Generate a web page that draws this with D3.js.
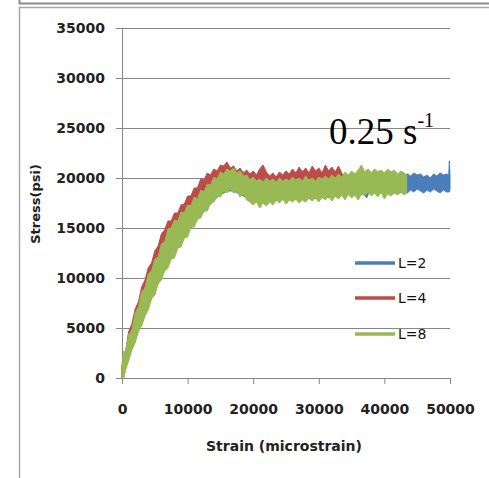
<!DOCTYPE html>
<html>
<head>
<meta charset="utf-8">
<script src="https://cdn.jsdelivr.net/npm/d3@7"></script>
<style>
  body { margin: 0; background: #fff; }
</style>
</head>
<body>
<script>
// Stress vs strain at 0.25 s-1, three specimen lengths

const seriesNames = ["L=2", "L=4", "L=8"];
const xTicks = [0, 10000, 20000, 30000, 40000, 50000];
const yTicks = [0, 5000, 10000, 15000, 20000, 25000, 30000, 35000];
const rateLabel = "0.25 s";
const rateExp = "-1";

// noisy traces: [strain (microstrain), low stress, high stress] (psi)
const l2Data = [[0,0,1200],[1000,2000,3800],[2000,3800,6000],[3000,5600,8000],[4000,7200,9800],
  [5000,8800,11300],[6000,10200,12800],[7000,11400,14200],[8000,12500,15200],[9000,13500,16000],
  [10000,14600,16800],[11000,15400,17600],[12000,16300,18300],[13000,17000,19000],[14000,17800,19700],
  [15000,18300,20200],[16000,18700,20400],[17000,18700,20500],[18000,18400,20200],[19000,18000,19900],
  [20000,17700,19800],[22000,17600,19600],[24000,17800,19700],[26000,17900,19800],[28000,17900,19900],
  [30000,18000,19900],[32000,18100,20000],[34000,18300,20200],[36000,18400,20300],[37000,18300,20300],
  [37300,18000,20300],[37600,18500,20300],[39000,18500,20400],[41000,18500,20400],[43000,18600,20300],
  [43500,18500,20400],[44000,18800,20200],[44500,18600,20500],[45000,18900,20300],[45500,18700,20400],
  [46000,18500,20100],[46500,18800,20300],[47000,18600,20000],[47500,18900,20400],[48000,18700,20200],
  [48500,18500,20500],[49000,18800,20300],[49500,18600,20400],[49800,18600,20300],[49900,18600,21700],
  [50000,18900,20200]];

const l4Data = [[0,0,1200],[500,1000,2400],[1000,2000,4600],[1500,3200,5400],[2000,4200,6900],
  [2500,5200,7600],[3000,6100,9100],[3500,7100,9800],[4000,7900,11000],[4500,8800,11500],
  [5000,9500,12700],[5500,10300,13200],[6000,11000,14400],[6500,11700,14800],[7000,12300,15700],
  [7500,12900,15700],[8000,13500,16500],[8500,14000,16500],[9000,14500,17300],[9500,15000,17400],
  [10000,15400,18200],[10500,15900,18200],[11000,16300,19000],[11500,16700,19000],[12000,17100,19900],
  [12500,17500,19800],[13000,17800,20500],[13500,18200,20300],[14000,18500,20900],[14500,18800,20700],
  [15000,19000,21300],[15500,19200,21200],[16000,19400,21600],[16500,19400,21000],[17000,19400,21200],
  [17500,19300,20700],[18000,19200,21000],[18500,19100,20500],[19000,19000,20800],[19500,19000,20400],
  [20000,19000,20700],[20500,19000,20300],[21000,19000,20900],[21500,19000,21300],[22000,19000,20600],
  [22500,19000,20200],[23000,19000,20500],[23500,19000,20100],[24000,19000,20600],[24500,19000,20300],
  [25000,19000,20700],[25500,19000,20400],[26000,19000,20900],[26500,19000,20500],[27000,19000,21100],
  [27500,19000,20600],[28000,19000,21000],[28500,19000,20500],[29000,19000,21200],[29500,19000,20700],
  [30000,19000,21000],[30500,19000,20500],[31000,19000,21300],[31500,19000,20700],[32000,19000,21100],
  [32500,19000,20600],[33000,19000,21200],[33500,19000,20500],[33800,19000,20200]];

const l8Data = [[0,0,1500],[300,0,2700],[500,700,2500],[1000,1700,4300],[1500,2800,4800],[2000,3500,6500],
  [2500,4700,7100],[3000,5200,8600],[3500,6200,9000],[4000,6800,10400],[4500,7900,10700],[5000,8300,11900],
  [5500,9400,12100],[6000,9800,13400],[6500,10700,13600],[7000,11000,14900],[7500,11900,15000],
  [8000,12000,15800],[8500,13000,15700],[9000,13100,16600],[9500,14000,16500],[10000,14100,17300],
  [10500,15100,17200],[11000,15100,18100],[11500,15900,17900],[12000,16000,18800],[12500,16700,18600],
  [13000,16700,19400],[13500,17500,19300],[14000,17600,20100],[14500,18200,19900],[15000,18100,20600],
  [15500,18700,20400],[16000,18500,20900],[16500,18900,20700],[17000,18500,21000],[17500,18700,20500],
  [18000,18100,20700],[18500,18400,20200],[19000,17800,20300],[19500,17600,19800],[20000,17300,20100],
  [20500,17600,19700],[21000,17000,19900],[21500,17500,19600],[22000,17200,20000],[22500,17600,19700],
  [23000,17300,19900],[23500,17800,19600],[24000,17500,20000],[24500,17900,19700],[25000,17400,19900],
  [25500,17800,19700],[26000,17600,20100],[26500,17900,19800],[27000,17500,20000],[27500,17800,19700],
  [28000,17600,20200],[28500,18000,19800],[29000,17700,20000],[29500,18000,19700],[30000,17600,20100],
  [30500,18100,19900],[31000,17800,20200],[31500,18200,19900],[32000,17700,20300],[32500,18200,20000],
  [33000,17900,20400],[33500,18300,20100],[34000,17800,20600],[34500,18400,20300],[35000,18000,20700],
  [35500,18300,20400],[36000,17800,20800],[36500,18400,21300],[37000,18300,20600],[37500,18600,20900],
  [38000,18200,20500],[38500,18500,20900],[39000,18100,20600],[39500,18600,20800],[40000,17900,20500],
  [40500,18400,20900],[41000,18200,20600],[41500,18500,20800],[42000,18300,20400],[42500,18600,20700],
  [43000,18300,20500],[43400,18500,20300]];

const seriesData = [l2Data, l4Data, l8Data];
const seriesColors = ["#4a7ebb", "#be4b48", "#98b954"];

const outerWidth = 489;
const outerHeight = 478;
const plot = {left: 122, right: 450, top: 28, bottom: 378};

const svg = d3.select("body").append("svg")
    .attr("width", outerWidth)
    .attr("height", outerHeight);

// frame edges (bottom of the box above + this chart's box)
svg.append("path")
   .attr("d", "M19.5,0V3.5H489")
   .attr("fill", "none")
   .attr("stroke", "#8c8c8c")
   .attr("stroke-width", 2);
svg.append("path")
   .attr("d", "M489,7.5H19.5V478")
   .attr("fill", "none")
   .attr("stroke", "#a6a6a6")
   .attr("stroke-width", 1.5);

const x = d3.scaleLinear().domain([0, 50000]).range([plot.left, plot.right]);
const y = d3.scaleLinear().domain([0, 35000]).range([plot.bottom, plot.top]);

// gridlines + y axis
const yAxis = svg.append("g")
   .attr("transform", "translate(" + plot.left + ",0)")
   .call(d3.axisLeft(y).tickValues(yTicks).tickSize(6).tickPadding(11).tickFormat(d3.format("d")));
yAxis.select(".domain").attr("stroke", "#868686");
yAxis.selectAll(".tick line").attr("stroke", "#868686");
yAxis.selectAll(".tick").append("line")
   .attr("x1", 0).attr("x2", plot.right - plot.left)
   .attr("stroke", "#868686");
yAxis.selectAll("text")
   .style("font-family", "DejaVu Sans")
   .style("font-weight", "bold")
   .style("font-size", "14px")
   .attr("fill", "#222");

// x axis
const xAxis = svg.append("g")
   .attr("transform", "translate(0," + plot.bottom + ")")
   .call(d3.axisBottom(x).tickValues(xTicks).tickSize(6).tickSizeOuter(0).tickPadding(20).tickFormat(d3.format("d")));
xAxis.select(".domain").attr("stroke", "#868686");
xAxis.selectAll(".tick line").attr("stroke", "#868686");
xAxis.selectAll("text")
   .style("font-family", "DejaVu Sans")
   .style("font-weight", "bold")
   .style("font-size", "14px")
   .attr("fill", "#222");

// series, drawn as the band the noisy trace fills
const band = d3.area()
   .x(d => x(d[0]))
   .y0(d => y(d[1]))
   .y1(d => y(d[2]));
svg.append("g").selectAll("path")
   .data(seriesData)
   .join("path")
   .attr("d", band)
   .attr("fill", (d, i) => seriesColors[i])
   .attr("stroke", (d, i) => seriesColors[i])
   .attr("stroke-width", 1)
   .attr("stroke-linejoin", "round");

// axis titles
svg.append("text")
   .text("Strain (microstrain)")
   .attr("x", 284).attr("y", 451)
   .attr("text-anchor", "middle")
   .style("font-family", "DejaVu Sans").style("font-weight", "bold").style("font-size", "14px")
   .attr("fill", "#222");
svg.append("text")
   .text("Stress(psi)")
   .attr("transform", "translate(40,204)rotate(-90)")
   .attr("text-anchor", "middle")
   .style("font-family", "DejaVu Sans").style("font-weight", "bold").style("font-size", "13px")
   .attr("fill", "#222");

// legend
const legend = svg.append("g").selectAll("g")
   .data(seriesNames)
   .join("g")
   .attr("transform", (d, i) => "translate(355," + [263, 298, 334][i] + ")");
legend.append("line")
   .attr("x1", 0).attr("x2", 40)
   .attr("stroke", (d, i) => seriesColors[i])
   .attr("stroke-width", 3.5);
legend.append("text")
   .text(d => d)
   .attr("x", 43).attr("y", 5)
   .style("font-family", "DejaVu Sans").style("font-size", "14px")
   .attr("fill", "#111");

// strain-rate label
const rate = svg.append("text")
   .attr("x", 329).attr("y", 144)
   .style("font-family", "Liberation Serif")
   .attr("fill", "#000");
rate.append("tspan").text(rateLabel).style("font-size", "37px");
rate.append("tspan").text(rateExp).attr("dy", -17).style("font-size", "20px");
</script>
</body>
</html>
